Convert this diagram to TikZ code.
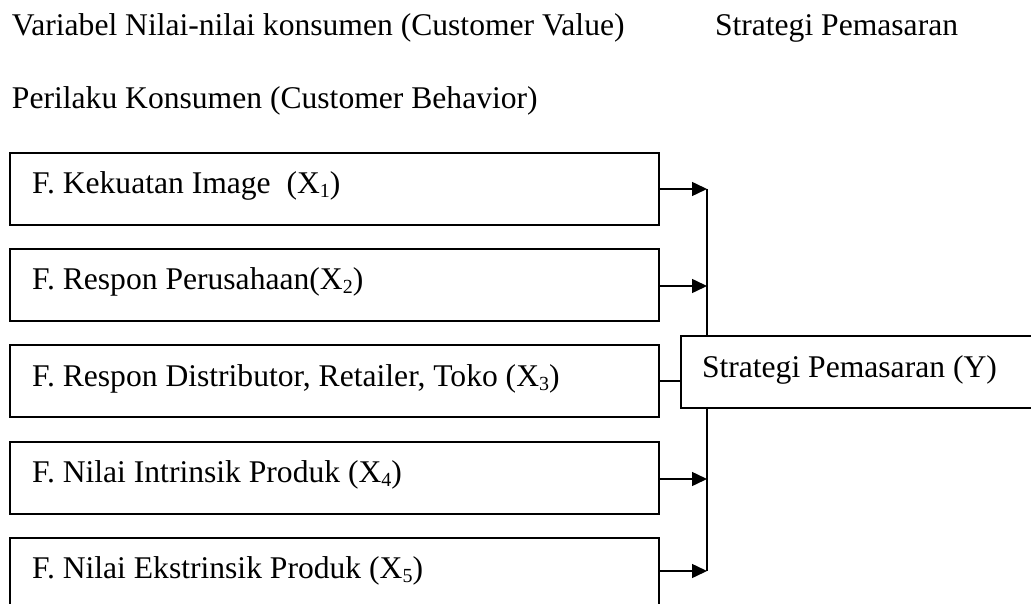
\documentclass[tikz,border=0pt]{standalone}
\usepackage{fontspec}
\setmainfont{Liberation Serif}
\usetikzlibrary{arrows.meta}
% lowered, smaller index digit
\newcommand\subidx[1]{\raisebox{-4pt}{\fontsize{20}{20}\selectfont #1}}
\begin{document}
\begin{tikzpicture}[x=1pt,y=-1pt,
  every node/.style={inner sep=0pt, outer sep=0pt, font=\fontsize{31.6}{36}\selectfont},
  factor/.style={draw, line width=1.8pt, minimum width=649pt, minimum height=72pt, anchor=north west},
  target/.style={draw, line width=1.8pt, minimum width=370pt, minimum height=72pt, anchor=north west},
  txt/.style={anchor=base west},
  link/.style={line width=1.5pt},
  arr/.style={link, -{Triangle[length=15pt,width=14pt]}}]
\useasboundingbox (0,0) rectangle (1031,604);
\clip (0,0) rectangle (1031,604);

% headings
\node[txt] (h1) at (12,36) {Variabel Nilai-nilai konsumen (Customer Value)};
\node[txt] (h2) at (715,36) {Strategi Pemasaran};
\node[txt] (h3) at (12,109) {Perilaku Konsumen (Customer Behavior)};

% factor boxes
\node[factor] (b1) at (10,153) {};
\node[factor] (b2) at (10,249) {};
\node[factor] (b3) at (10,345) {};
\node[factor] (b4) at (10,442) {};
\node[factor] (b5) at (10,538) {};

\node[txt] (t1) at (32,194) {F. Kekuatan Image\ \ (X\subidx{1})};
\node[txt] (t2) at (32,290) {F. Respon Perusahaan(X\subidx{2})};
\node[txt] (t3) at (32,386) {F. Respon Distributor, Retailer, Toko (X\subidx{3})};
\node[txt] (t4) at (32,482) {F. Nilai Intrinsik Produk (X\subidx{4})};
\node[txt] (t5) at (32,578) {F. Nilai Ekstrinsik Produk (X\subidx{5})};

% target box
\node[target] (y) at (681,336) {};
\node[txt] (ty) at (702,377) {Strategi Pemasaran (Y)};

% collecting bus
\coordinate (j1) at (707,189);
\coordinate (j2) at (707,286);
\coordinate (j4) at (707,479);
\coordinate (j5) at (707,571);

\draw[arr] (b1.east |- j1) -- (j1);
\draw[arr] (b2.east |- j2) -- (j2);
\draw[arr] (b4.east |- j4) -- (j4);
\draw[arr] (b5.east |- j5) -- (j5);
\draw[link] (j1) -- (y.north -| j1);
\draw[link] (y.south -| j1) -- (j5);
\draw[link] (b3.east) -- (b3.east -| y.west);
\end{tikzpicture}
\end{document}
